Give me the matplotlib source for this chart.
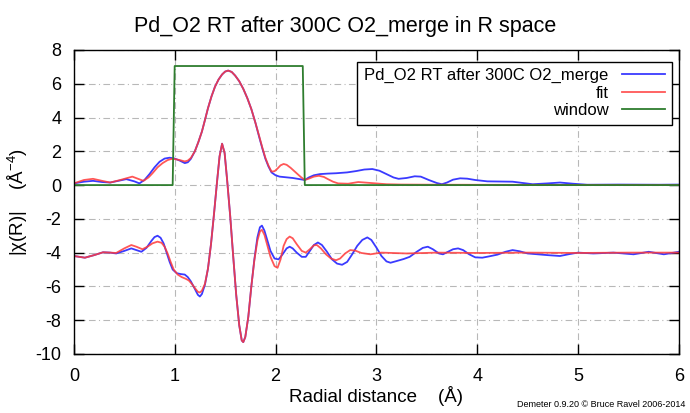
import matplotlib
matplotlib.use("Agg")
import matplotlib.pyplot as plt

plt.rcParams['font.family'] = ['Liberation Sans', 'DejaVu Sans']
plt.rcParams['mathtext.fontset'] = 'custom'
plt.rcParams['mathtext.rm'] = 'Liberation Sans'
plt.rcParams['mathtext.it'] = 'Liberation Sans'
plt.rcParams['axes.unicode_minus'] = False

# |chi(R)| of the data (blue)
mag_x = [0.00, 0.10, 0.19, 0.28, 0.36, 0.44, 0.52, 0.60, 0.65, 0.70, 0.75, 0.80, 0.85,
         0.90, 0.95, 1.00, 1.05, 1.10, 1.13, 1.16, 1.20, 1.235, 1.27, 1.30, 1.33, 1.365,
         1.40, 1.435, 1.47, 1.50, 1.53, 1.565, 1.60, 1.64, 1.68, 1.72, 1.76, 1.80, 1.84,
         1.87, 1.90, 1.93, 1.96, 2.00, 2.04, 2.17, 2.29, 2.33, 2.38, 2.44, 2.52, 2.60,
         2.71, 2.80, 2.88, 2.96, 3.03, 3.10, 3.17, 3.22, 3.30, 3.38, 3.44, 3.52, 3.60,
         3.65, 3.70, 3.76, 3.83, 3.90, 3.98, 4.10, 4.35, 4.55, 4.70, 4.82, 4.95, 5.09,
         5.40, 5.80, 6.00]
mag_data = [0.10, 0.20, 0.25, 0.18, 0.15, 0.25, 0.35, 0.22, 0.10, 0.30, 0.65, 1.05, 1.38,
            1.57, 1.62, 1.57, 1.45, 1.30, 1.35, 1.55, 2.00, 2.55, 3.17, 3.85, 4.55, 5.25,
            5.83, 6.25, 6.55, 6.72, 6.78, 6.70, 6.48, 6.15, 5.70, 5.15, 4.50, 3.70, 2.80,
            2.15, 1.55, 1.10, 0.75, 0.58, 0.50, 0.42, 0.30, 0.45, 0.58, 0.65, 0.68, 0.70,
            0.75, 0.83, 0.92, 0.95, 0.85, 0.65, 0.45, 0.37, 0.42, 0.52, 0.50, 0.30, 0.12,
            0.05, 0.15, 0.32, 0.40, 0.38, 0.30, 0.22, 0.20, 0.05, 0.10, 0.15, 0.08, 0.02,
            0.03, 0.02, 0.03]

# |chi(R)| of the fit (red)
fit_mag_x = [0.00, 0.10, 0.19, 0.28, 0.36, 0.46, 0.58, 0.69, 0.74, 0.78, 0.83, 0.88, 0.93,
             0.97, 1.01, 1.05, 1.10, 1.13, 1.16, 1.20, 1.235, 1.27, 1.30, 1.33, 1.365,
             1.40, 1.435, 1.47, 1.50, 1.53, 1.565, 1.60, 1.64, 1.68, 1.72, 1.76, 1.80,
             1.84, 1.87, 1.90, 1.93, 1.96, 1.99, 2.02, 2.05, 2.08, 2.11, 2.15, 2.20, 2.25,
             2.29, 2.33, 2.38, 2.43, 2.48, 2.52, 2.57, 2.62, 2.72, 2.82, 2.95, 3.10, 3.25,
             3.60, 6.00]
fit_mag = [0.10, 0.30, 0.37, 0.25, 0.15, 0.30, 0.50, 0.25, 0.45, 0.70, 1.05, 1.30, 1.48,
           1.55, 1.53, 1.48, 1.40, 1.45, 1.60, 2.00, 2.55, 3.17, 3.85, 4.55, 5.25, 5.83,
           6.25, 6.55, 6.72, 6.78, 6.70, 6.48, 6.15, 5.70, 5.15, 4.50, 3.70, 2.85, 2.20,
           1.60, 1.15, 0.80, 0.82, 0.98, 1.17, 1.25, 1.20, 1.02, 0.75, 0.48, 0.30, 0.38,
           0.50, 0.55, 0.48, 0.35, 0.20, 0.10, 0.08, 0.18, 0.12, 0.05, 0.03, 0.02, 0.00]

# window
win_x = [0.00, 0.98, 1.00, 2.27, 2.29, 6.00]
win_y = [0.00, 0.00, 7.05, 7.05, 0.00, 0.00]

# Re[chi(R)] of the data, offset by -4 (blue)
re_x = [0.00, 0.11, 0.20, 0.29, 0.36, 0.42, 0.50, 0.57, 0.62, 0.67, 0.72, 0.77, 0.80,
        0.83, 0.86, 0.89, 0.92, 0.95, 0.98, 1.02, 1.06, 1.10, 1.13, 1.16, 1.20, 1.23,
        1.25, 1.27, 1.30, 1.33, 1.36, 1.39, 1.42, 1.445, 1.47, 1.495, 1.52, 1.55, 1.58,
        1.61, 1.64, 1.665, 1.68, 1.70, 1.73, 1.76, 1.79, 1.82, 1.845, 1.865, 1.89, 1.92,
        1.95, 1.99, 2.03, 2.07, 2.11, 2.14, 2.17, 2.21, 2.26, 2.30, 2.34, 2.38, 2.42,
        2.46, 2.51, 2.56, 2.61, 2.66, 2.71, 2.76, 2.81, 2.86, 2.91, 2.95, 3.00, 3.05,
        3.10, 3.14, 3.20, 3.27, 3.33, 3.40, 3.46, 3.51, 3.56, 3.62, 3.66, 3.71, 3.76,
        3.81, 3.86, 3.92, 3.98, 4.05, 4.12, 4.20, 4.28, 4.35, 4.42, 4.50, 4.60, 4.70,
        4.82, 4.92, 5.00, 5.15, 5.35, 5.55, 5.70, 5.85, 6.00]
re_data = [-4.20, -4.30, -4.15, -3.98, -4.00, -4.05, -3.90, -3.75, -3.85, -3.95, -3.72,
           -3.30, -3.08, -3.00, -3.12, -3.45, -4.00, -4.55, -5.00, -5.22, -5.27, -5.30,
           -5.45, -5.70, -6.15, -6.50, -6.60, -6.45, -5.90, -4.95, -3.50, -1.70, 0.20,
           1.70, 2.45, 1.90, 0.30, -1.80, -4.20, -6.50, -8.30, -9.20, -9.30, -9.00, -7.80,
           -6.00, -4.40, -3.10, -2.50, -2.40, -2.70, -3.30, -3.90, -4.35, -4.40, -4.10,
           -3.75, -3.65, -3.75, -4.00, -4.25, -4.25, -3.90, -3.55, -3.40, -3.55, -3.95,
           -4.40, -4.65, -4.72, -4.55, -4.10, -3.60, -3.25, -3.10, -3.25, -3.70, -4.20,
           -4.52, -4.60, -4.50, -4.38, -4.25, -3.95, -3.72, -3.65, -3.80, -4.05, -4.10,
           -3.95, -3.80, -3.75, -3.85, -4.10, -4.28, -4.30, -4.22, -4.12, -3.95, -3.85,
           -3.92, -4.05, -4.10, -4.15, -4.20, -4.08, -4.00, -4.05, -4.00, -4.10, -3.95,
           -4.10, -3.95]

# Re[chi(R)] of the fit, offset by -4 (red)
fit_re_x = [0.00, 0.11, 0.20, 0.29, 0.36, 0.42, 0.50, 0.57, 0.62, 0.68, 0.73, 0.78, 0.83,
            0.87, 0.90, 0.93, 0.96, 0.99, 1.03, 1.07, 1.11, 1.14, 1.17, 1.20, 1.23, 1.25,
            1.27, 1.30, 1.33, 1.36, 1.39, 1.42, 1.445, 1.47, 1.495, 1.52, 1.55, 1.58,
            1.61, 1.64, 1.665, 1.68, 1.70, 1.73, 1.76, 1.79, 1.82, 1.845, 1.865, 1.89,
            1.92, 1.95, 1.99, 2.02, 2.05, 2.08, 2.11, 2.14, 2.17, 2.21, 2.26, 2.30, 2.34,
            2.38, 2.41, 2.45, 2.50, 2.55, 2.60, 2.64, 2.69, 2.74, 2.79, 2.85, 2.94, 3.05,
            3.30, 3.60, 4.00, 4.50, 5.00, 5.50, 6.00]
fit_re = [-4.20, -4.30, -4.15, -3.98, -4.00, -4.02, -3.75, -3.55, -3.65, -3.80, -3.65,
          -3.45, -3.35, -3.42, -3.65, -4.05, -4.55, -5.00, -5.30, -5.45, -5.55, -5.65,
          -5.85, -6.10, -6.32, -6.36, -6.25, -5.85, -4.95, -3.50, -1.70, 0.20, 1.70, 2.45,
          1.90, 0.30, -1.80, -4.20, -6.50, -8.30, -9.20, -9.30, -9.00, -7.80, -6.00,
          -4.45, -3.30, -2.75, -2.65, -2.95, -3.60, -4.25, -4.80, -4.90, -4.40, -3.60,
          -3.20, -3.05, -3.15, -3.50, -3.90, -4.00, -3.80, -3.57, -3.55, -3.75, -4.10,
          -4.35, -4.45, -4.35, -4.05, -3.85, -3.88, -4.02, -4.10, -4.00, -4.05, -4.00,
          -4.02, -4.00, -4.02, -4.00, -4.00]

fig = plt.figure(figsize=(6.9, 4.13), dpi=100)
ax = fig.add_axes([0.107, 0.143, 0.877, 0.736])

blue = '#3a3aff'
red = '#ff3a3a'
green = '#2e7d2e'

ax.plot(mag_x, mag_data, color=blue, lw=1.3, label='Pd_O2 RT after 300C O2_merge')
ax.plot(fit_mag_x, fit_mag, color=red, lw=1.3, alpha=0.85, label='fit')
ax.plot(win_x, win_y, color=green, lw=1.3, label='window')
ax.plot(re_x, re_data, color=blue, lw=1.3)
ax.plot(fit_re_x, fit_re, color=red, lw=1.3, alpha=0.85)

ax.set_xlim(0, 6)
ax.set_ylim(-10, 8)
ax.set_xticks(range(0, 7))
ax.set_yticks(range(-10, 9, 2))
ax.grid(True, color='#b8b8b8', lw=0.8, linestyle=(0, (6, 3, 1, 3)))
ax.tick_params(direction='in', length=7, width=1, top=True, right=True, labelsize=13)
ax.tick_params(axis='x', pad=10)
ax.tick_params(axis='y', pad=9)
for s in ax.spines.values():
    s.set_linewidth(1.0)

fig.text(0.5, 0.935, 'Pd_O2 RT after 300C O2_merge in R space', fontsize=15.5,
         ha='center', va='center')
ax.set_xlabel('Radial distance    (Å)', fontsize=13.5, labelpad=1)
ax.set_ylabel('|χ(R)|    (Å$^{-4}$)', fontsize=13.5, labelpad=4)

leg = ax.legend(loc='upper right', bbox_to_anchor=(0.988, 0.962), markerfirst=False,
                fancybox=False, framealpha=1, edgecolor='black', fontsize=12,
                handlelength=2.6, borderpad=0.4, labelspacing=0.15, borderaxespad=0)
leg.get_frame().set_linewidth(1.0)

fig.text(0.994, 0.01, 'Demeter 0.9.20 © Bruce Ravel 2006-2014', fontsize=6.5,
         ha='right', va='bottom')

fig.savefig('out.png', dpi=100)
